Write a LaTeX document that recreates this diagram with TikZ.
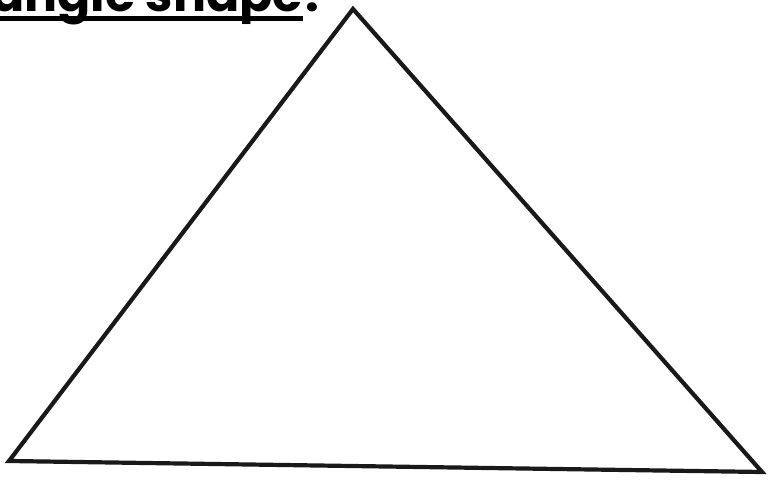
\documentclass[tikz,border=0pt]{standalone}
\usepackage{fontspec}
\newfontfamily\titlefont{Poppins}
\usetikzlibrary{positioning}

\begin{document}
\begin{tikzpicture}[x=1pt, y=1pt,
  edge/.style={line width=4.2pt, black!90},
  ttl/.style={font=\titlefont\bfseries\fontsize{49}{54}\selectfont, inner sep=0pt}
]
\useasboundingbox (0,0) rectangle (769,484);
% title, cut at the page edge
\node[ttl, anchor=base east] (title) at (303,472) {Triangle shape};
\node[ttl, anchor=base west] (dot) at ([xshift=2pt]title.base east) {.};
\draw[line width=5pt] ([yshift=-7pt]title.base west) -- ([yshift=-7pt]title.base east);
% triangle
\coordinate (top) at (353,475);
\coordinate (bl) at (9,23);
\coordinate (br) at (762,12);
\draw[edge, line join=miter] (bl) -- (top) -- (br) -- cycle;
\end{tikzpicture}
\end{document}
